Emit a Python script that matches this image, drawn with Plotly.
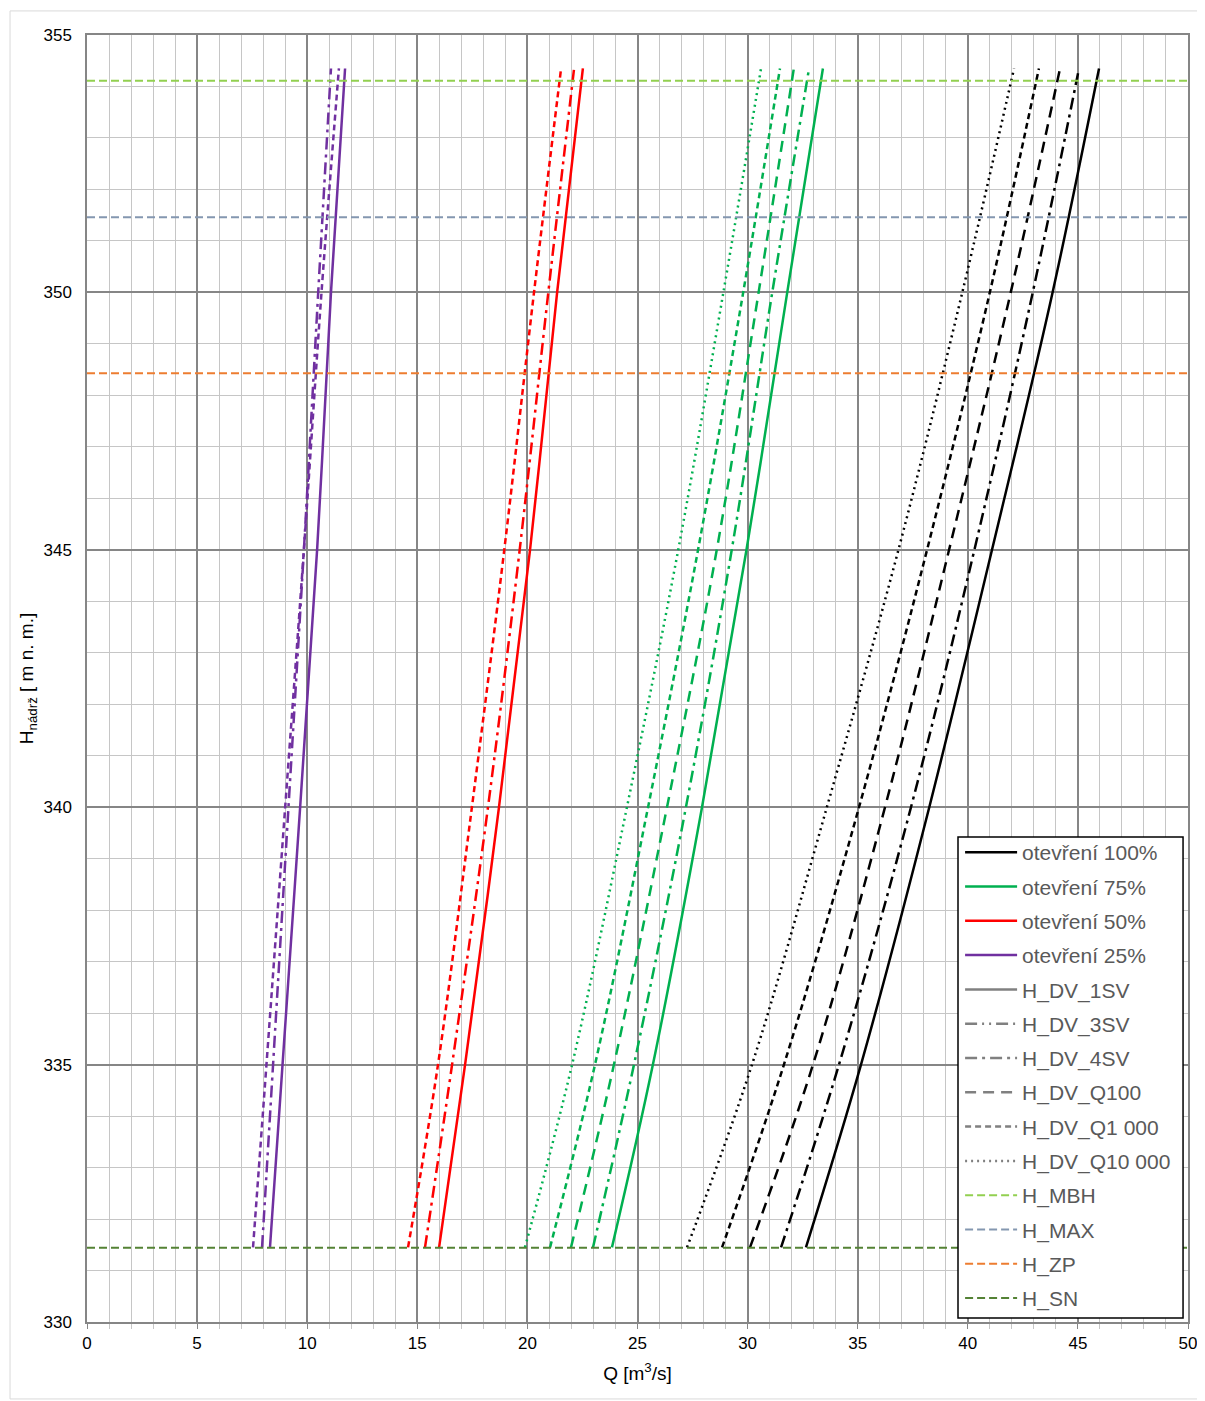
import plotly.graph_objects as go

# ---- data ----
H_LEVELS = [331.45, 335, 340, 345, 350, 354.35]   # reservoir level [m n. m.]

# opening 100 %
q100_1sv    = [32.65, 35.15, 38.25, 41.10, 43.85, 45.96]
q100_4sv    = [31.52, 34.15, 37.42, 40.30, 42.95, 45.05]
q100_q100   = [30.11, 32.97, 36.24, 39.15, 41.95, 44.19]
q100_q1000  = [28.84, 31.65, 35.06, 38.15, 41.00, 43.23]
q100_q10000 = [27.25, 30.20, 33.60, 36.85, 39.75, 42.10]

# opening 75 %
q75_1sv    = [23.84, 25.70, 27.93, 29.95, 31.80, 33.42]
q75_4sv    = [22.98, 24.84, 27.20, 29.28, 31.12, 32.79]
q75_q100   = [21.98, 23.93, 26.34, 28.60, 30.50, 32.10]
q75_q1000  = [21.03, 23.07, 25.48, 27.75, 29.80, 31.47]
q75_q10000 = [19.89, 22.03, 24.52, 26.85, 28.90, 30.61]

# opening 50 %
q50_1sv   = [15.99, 17.17, 18.71, 20.12, 21.35, 22.52]
q50_4sv   = [15.35, 16.58, 18.21, 19.65, 20.95, 22.12]
q50_q1000 = [14.58, 15.94, 17.48, 18.95, 20.30, 21.53]

# opening 25 %
q25_1sv   = [8.31, 8.88, 9.68, 10.45, 11.08, 11.72]
q25_4sv   = [7.95, 8.45, 9.15, 9.85, 10.50, 11.08]
q25_q1000 = [7.54, 8.15, 9.00, 9.85, 10.65, 11.44]

# horizontal levels
H_MBH = 354.11
H_MAX = 351.46
H_ZP = 348.43
H_SN = 331.44
X_SPAN = [0, 50]

OPENING_NAMES = ["otevření 100%", "otevření 75%", "otevření 50%", "otevření 25%"]
CASE_NAMES = ["H_DV_1SV", "H_DV_3SV", "H_DV_4SV", "H_DV_Q100", "H_DV_Q1 000", "H_DV_Q10 000"]
LEVEL_NAMES = ["H_MBH", "H_MAX", "H_ZP", "H_SN"]

# ---- styles ----
C100, C75, C50, C25 = "#000000", "#00B050", "#FF0000", "#7030A0"
GRAY = "#808080"
DASH_1SV = "solid"
DASH_3SV = "12px,5px,2px,5px,2px,5px"
DASH_4SV = "12px,5px,3px,5px"
DASH_Q100 = "11px,7px"
DASH_Q1000 = "6px,4px"
DASH_Q10000 = "2px,4px"
LEVEL_COLORS = ["#92D050", "#8497B0", "#ED7D31", "#548235"]
LEVEL_DASH = "8px,4px"
LW = 2.5
FONT = "Liberation Sans"

fig = go.Figure()


def curve(q, color, dash):
    fig.add_trace(go.Scatter(
        x=q, y=H_LEVELS, mode="lines",
        line=dict(color=color, width=LW, dash=dash, shape="spline", smoothing=1.0),
        showlegend=False, hoverinfo="skip"))


for q, d in [(q100_q10000, DASH_Q10000), (q100_q1000, DASH_Q1000), (q100_q100, DASH_Q100),
             (q100_4sv, DASH_4SV), (q100_1sv, DASH_1SV)]:
    curve(q, C100, d)
for q, d in [(q75_q10000, DASH_Q10000), (q75_q1000, DASH_Q1000), (q75_q100, DASH_Q100),
             (q75_4sv, DASH_4SV), (q75_1sv, DASH_1SV)]:
    curve(q, C75, d)
for q, d in [(q50_q1000, DASH_Q1000), (q50_4sv, DASH_4SV), (q50_1sv, DASH_1SV)]:
    curve(q, C50, d)
for q, d in [(q25_q1000, DASH_Q1000), (q25_4sv, DASH_4SV), (q25_1sv, DASH_1SV)]:
    curve(q, C25, d)

rank = 1
# legend entries: openings
for name, col in zip(OPENING_NAMES, [C100, C75, C50, C25]):
    fig.add_trace(go.Scatter(x=[None], y=[None], mode="lines", name=name,
                             line=dict(color=col, width=LW), legendgroup=name,
                             legendrank=rank))
    rank += 1
# legend entries: cases
for name, d in zip(CASE_NAMES, [DASH_1SV, DASH_3SV, DASH_4SV, DASH_Q100, DASH_Q1000, DASH_Q10000]):
    fig.add_trace(go.Scatter(x=[None], y=[None], mode="lines", name=name,
                             line=dict(color=GRAY, width=LW, dash=d), legendgroup=name,
                             legendrank=rank))
    rank += 1
# horizontal levels
for name, val, col in zip(LEVEL_NAMES, [H_MBH, H_MAX, H_ZP, H_SN], LEVEL_COLORS):
    fig.add_trace(go.Scatter(x=X_SPAN, y=[val, val], mode="lines", name=name,
                             line=dict(color=col, width=2, dash=LEVEL_DASH),
                             legendgroup=name, legendrank=rank, hoverinfo="skip"))
    rank += 1

MAJOR = "#868686"
MINOR = "#C6C6C6"

# The page has an 8px body margin, so the figure is drawn 8px right/down.
fig.update_layout(
    width=1197, height=1393,
    margin=dict(l=79, r=17, t=27, b=79, autoexpand=False),
    paper_bgcolor="white", plot_bgcolor="white",
    font=dict(family=FONT, size=17, color="#000000"),
    xaxis=dict(
        range=[0, 50], tick0=0, dtick=5, automargin=False,
        showgrid=True, gridcolor=MAJOR, gridwidth=1.5,
        minor=dict(dtick=1, showgrid=True, gridcolor=MINOR, gridwidth=1.3,
                   ticks="outside", ticklen=5, tickcolor=MINOR),
        ticks="outside", ticklen=5, tickcolor=MAJOR,
        showline=True, linecolor=MAJOR, linewidth=1.5, mirror=True,
        zeroline=False,
        tickfont=dict(size=17, color="#000000"),
        title=dict(text="Q [m<sup>3</sup>/s]", font=dict(size=19), standoff=15),
    ),
    yaxis=dict(
        range=[330, 355], tick0=330, dtick=5, automargin=False,
        showgrid=True, gridcolor=MAJOR, gridwidth=1.5,
        minor=dict(dtick=1, showgrid=True, gridcolor=MINOR, gridwidth=1.3),
        ticks="", ticklabelstandoff=10,
        showline=True, linecolor=MAJOR, linewidth=1.5, mirror=True,
        zeroline=False,
        tickfont=dict(size=17, color="#000000"),
        title=dict(text="H<sub>nádrž</sub> [ m n. m.]", font=dict(size=19), standoff=5),
    ),
    legend=dict(
        x=0.793, xanchor="left", y=0.3807, yanchor="top",
        bgcolor="rgba(0,0,0,0)", borderwidth=0,
        font=dict(family=FONT, size=21, color="#595959"),
        tracegroupgap=4, itemwidth=52,
    ),
    shapes=[
        # chart-area frame
        dict(type="rect", xref="paper", yref="paper",
             x0=-0.0699, x1=1.0136, y0=-0.0598, y1=1.0187,
             line=dict(color="#D9D9D9", width=1), fillcolor="rgba(0,0,0,0)",
             layer="below"),
        # legend box
        dict(type="rect", xref="paper", yref="paper",
             x0=0.7911, x1=0.9955, y0=0.0031, y1=0.3768,
             line=dict(color="#000000", width=1.5), fillcolor="white",
             layer="above"),
    ],
)

fig.write_html("out.html")
